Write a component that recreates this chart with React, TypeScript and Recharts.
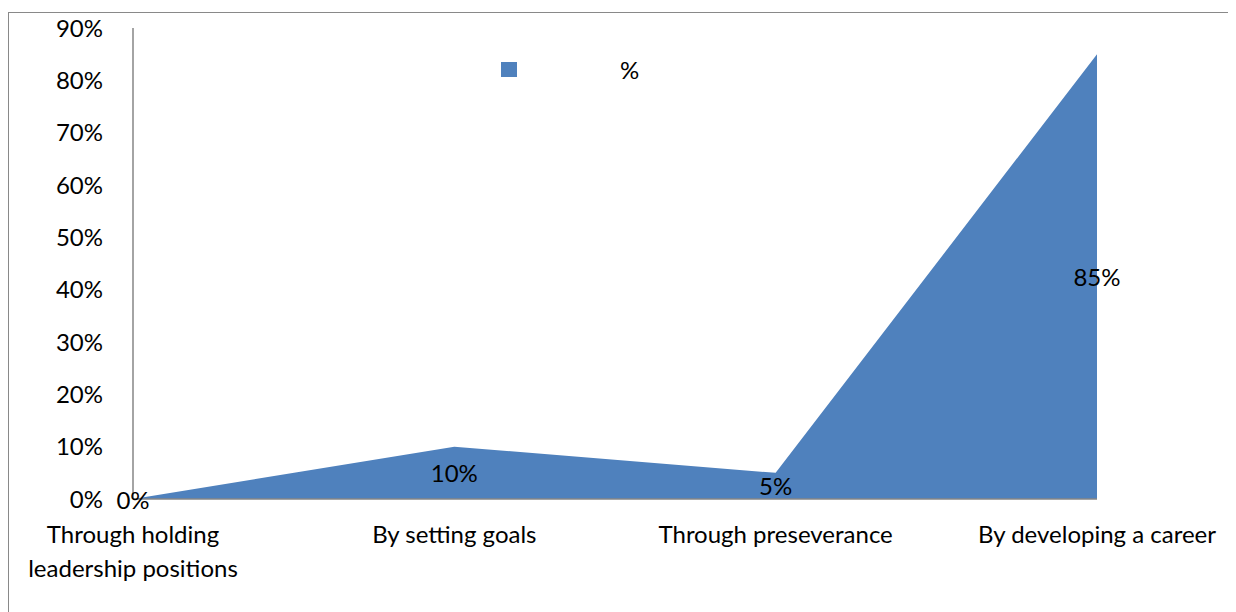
import React from "react";
import { AreaChart, Area, XAxis, YAxis, LabelList } from "recharts";

const categories = [
  "Through holding leadership positions",
  "By setting goals",
  "Through preseverance",
  "By developing a career",
];
const percentValues = [0, 10, 5, 85];
const yTicks = [0, 10, 20, 30, 40, 50, 60, 70, 80, 90];
const seriesName = "%";

const data = categories.map((c, i) => ({ category: c, pct: percentValues[i] }));

const W = 1227;
const H = 599;
const MARGIN = { top: 15, right: 139, left: 0, bottom: 0 };
const YAXIS_W = 124;
const XAXIS_H = 113;
const PLOT_BOTTOM = H - MARGIN.bottom - XAXIS_H;
const FONT = "Lato, 'Open Sans', sans-serif";
const FONT_SIZE = 24;
const AXIS_COLOR = "#868686";
const FILL = "#4F81BD";

function CategoryTick(props: any) {
  const { x, y, payload } = props;
  const text: string = payload.value;
  // wrap the long first label onto two lines like the original
  const lines =
    text.length > 24
      ? [text.split(" ").slice(0, 2).join(" "), text.split(" ").slice(2).join(" ")]
      : [text];
  return (
    <g>
      {lines.map((ln, i) => (
        <text
          key={i}
          x={x}
          y={y + 26 + i * 34}
          textAnchor="middle"
          dominantBaseline="central"
          fill="#000"
          style={{ fontFamily: FONT, fontSize: FONT_SIZE }}
        >
          {ln}
        </text>
      ))}
    </g>
  );
}

function MidLabel(props: any) {
  const { x, y, value } = props;
  const midY = (y + PLOT_BOTTOM) / 2;
  return (
    <text
      x={x}
      y={midY}
      textAnchor="middle"
      dominantBaseline="central"
      fill="#000"
      style={{ fontFamily: FONT, fontSize: FONT_SIZE }}
    >
      {`${value}%`}
    </text>
  );
}

export default function App() {
  return (
    <div
      style={{
        marginTop: 4,
        width: 1227,
        height: 599,
        borderTop: "1px solid #898989",
        borderLeft: "1px solid #898989",
        position: "relative",
        background: "#fff",
      }}
    >
      <AreaChart width={W} height={H} data={data} margin={MARGIN}>
        <XAxis
          dataKey="category"
          height={XAXIS_H}
          axisLine={{ stroke: AXIS_COLOR, strokeWidth: 1.5 }}
          tickLine={false}
          tick={<CategoryTick />}
          interval={0}
        />
        <YAxis
          width={YAXIS_W}
          domain={[0, 90]}
          ticks={yTicks}
          tickFormatter={(v: number) => `${v}%`}
          axisLine={{ stroke: AXIS_COLOR, strokeWidth: 1.5 }}
          tickLine={false}
          tickMargin={24}
          tick={{ fill: "#000", fontSize: FONT_SIZE, fontFamily: FONT }}
        />
        <Area
          type="linear"
          dataKey="pct"
          name={seriesName}
          stroke="none"
          fill={FILL}
          fillOpacity={1}
          isAnimationActive={false}
        >
          <LabelList dataKey="pct" content={<MidLabel />} />
        </Area>
      </AreaChart>
      <div
        style={{
          position: "absolute",
          left: 492,
          top: 42,
          display: "flex",
          alignItems: "center",
          fontFamily: FONT,
          fontSize: FONT_SIZE,
        }}
      >
        <span style={{ width: 16, height: 15, background: FILL, display: "inline-block" }} />
        <span style={{ marginLeft: 103 }}>{seriesName}</span>
      </div>
    </div>
  );
}
